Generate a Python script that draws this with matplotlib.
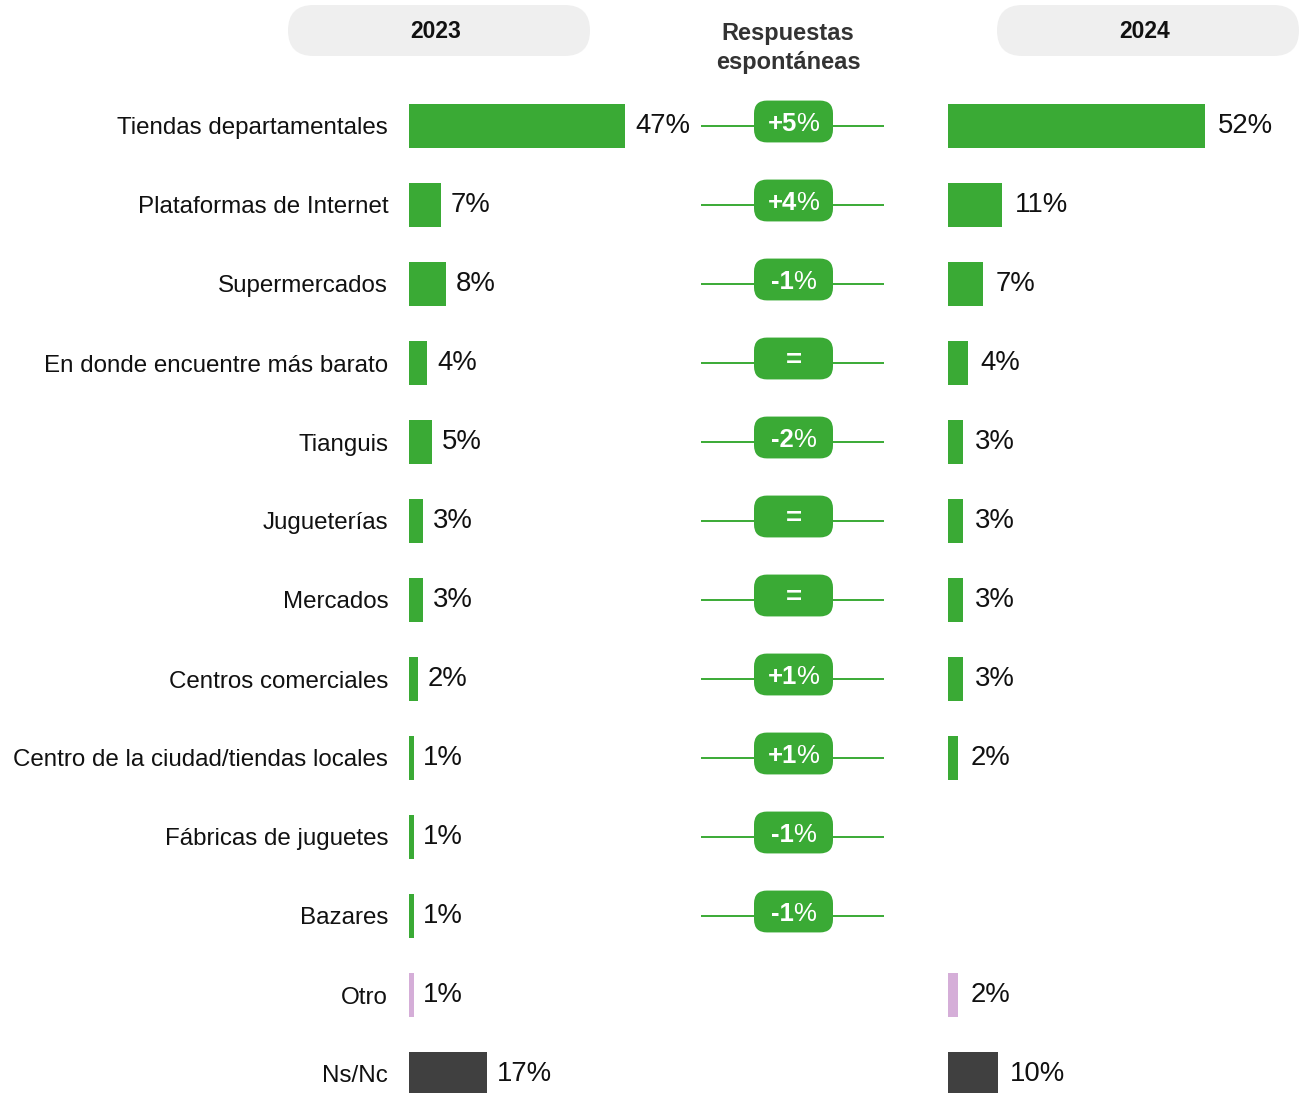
import matplotlib.pyplot as plt
from matplotlib.patches import FancyBboxPatch
from matplotlib.transforms import ScaledTranslation

plt.rcParams['font.family'] = ['Liberation Sans', 'DejaVu Sans']

# data
categorias = ['Tiendas departamentales', 'Plataformas de Internet', 'Supermercados',
              'En donde encuentre más barato', 'Tianguis', 'Jugueterías', 'Mercados',
              'Centros comerciales', 'Centro de la ciudad/tiendas locales',
              'Fábricas de juguetes', 'Bazares', 'Otro', 'Ns/Nc']
valores_2023 = [47, 7, 8, 4, 5, 3, 3, 2, 1, 1, 1, 1, 17]
valores_2024 = [52, 11, 7, 4, 3, 3, 3, 3, 2, None, None, 2, 10]
cambios = ['+5', '+4', '-1', '=', '-2', '=', '=', '+1', '+1', '-1', '-1', None, None]
tipos = ['marca'] * 11 + ['otro', 'nsnc']

colores = {'marca': '#3aaa35', 'otro': '#d5aed8', 'nsnc': '#404040'}
verde = '#3aaa35'

W, H = 1299, 1093
FILA0, PASO = 126, 79  # px of first row centre, px between rows

fig = plt.figure(figsize=(W / 100, H / 100), dpi=100)


def px_axes(left, width):
    ax = fig.add_axes([left / W, 0, width / W, 1])
    ax.set_ylim((H - FILA0) / PASO, -FILA0 / PASO)
    for s in ax.spines.values():
        s.set_visible(False)
    ax.set_xticks([])
    ax.patch.set_alpha(0)
    return ax


filas = list(range(len(categorias)))

# 2023 bars
ax1 = px_axes(409, 290)
ax1.set_xlim(0, 290 / 4.6)
ax1.barh(filas, valores_2023, height=0.56, color=[colores[t] for t in tipos])
ax1.set_yticks(filas)
ax1.set_yticklabels(categorias, fontsize=17.4, color='#111111')
ax1.tick_params(axis='y', length=0, pad=15)
for i, v in enumerate(valores_2023):
    ax1.annotate(f'{v}%', xy=(v, i), xytext=(7, 0), textcoords='offset points',
                 va='center', ha='left', fontsize=19.8, color='#111111')

# 2024 bars
ax2 = px_axes(948, 340)
ax2.set_xlim(0, 340 / 4.95)
ax2.set_yticks([])
for i, v in enumerate(valores_2024):
    if v is None:
        continue
    ax2.barh(i, v, height=0.56, color=colores[tipos[i]])
    ax2.annotate(f'{v}%', xy=(v, i), xytext=(9, 0), textcoords='offset points',
                 va='center', ha='left', fontsize=19.8, color='#111111')

# middle column: change pills
axm = px_axes(701, 183)
axm.set_xlim(0, 183)
axm.set_yticks([])
renderer = fig.canvas.get_renderer()
cx = 92.5
sube = 4.5 / PASO  # pills sit slightly above their line
for i, c in enumerate(cambios):
    if c is None:
        continue
    yc = i - sube
    axm.plot([0, 183], [i, i], color=verde, lw=1.4, zorder=1)
    axm.add_patch(FancyBboxPatch((cx - 39.5, yc - 0.265), 79, 0.53,
                                 boxstyle='round,pad=0,rounding_size=13',
                                 mutation_aspect=1 / PASO, fc=verde, ec='none', zorder=2))
    if c == '=':
        axm.text(cx, yc + 2.5 / PASO, '=', ha='center', va='center', fontsize=20,
                 fontweight='bold', color='white', zorder=3)
        continue
    # bold number, regular percent sign, centred together
    t1 = axm.text(cx, yc, c, ha='left', va='center_baseline', fontsize=18.5,
                  fontweight='bold', color='white', zorder=3)
    t2 = axm.text(cx, yc, '%', ha='left', va='center_baseline', fontsize=18.5,
                  color='white', zorder=3)
    w1 = t1.get_window_extent(renderer).width - 1
    w2 = t2.get_window_extent(renderer).width
    total = w1 + w2
    t1.set_transform(axm.transData + ScaledTranslation(-total / 2 / 100, 0, fig.dpi_scale_trans))
    t2.set_transform(axm.transData + ScaledTranslation((w1 - total / 2) / 100, 0, fig.dpi_scale_trans))

# header
axh = fig.add_axes([0, 0, 1, 1], zorder=-1)
axh.set_xlim(0, W)
axh.set_ylim(H, 0)
axh.axis('off')
for x0, anio in [(288, '2023'), (997, '2024')]:
    axh.add_patch(FancyBboxPatch((x0, 5), 302, 51, boxstyle='round,pad=0,rounding_size=25.5',
                                 fc='#efefef', ec='none'))
    axh.text(x0 + 148, 31, anio, ha='center', va='center', fontsize=16.5,
             fontweight='bold', color='#111111')
axh.text(788, 48, 'Respuestas\nespontáneas', ha='center', va='center', fontsize=17,
         fontweight='bold', color='#333333', linespacing=1.3)

fig.savefig('out.png', dpi=100)
